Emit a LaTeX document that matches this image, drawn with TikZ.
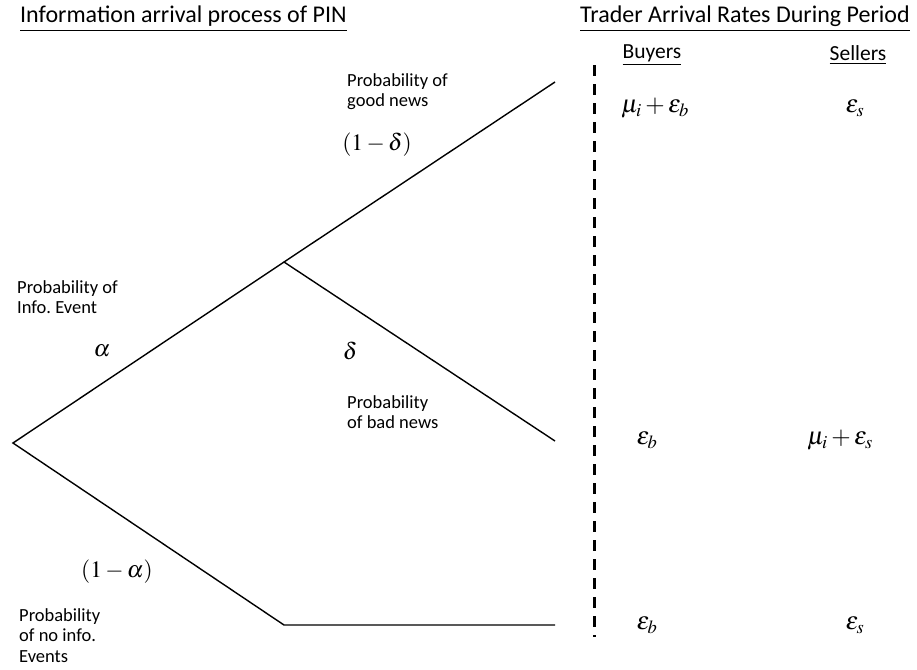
\documentclass[tikz,border=0pt]{standalone}
\usepackage{mathptmx}
\usepackage{fontspec}
\setmainfont{Carlito}
\usepackage{tikz}
\usetikzlibrary{positioning}
\frenchspacing
\tikzset{
  branch/.style={draw=black, line width=1.4pt},
  divider/.style={draw=black, line width=3pt, dash pattern=on 11pt off 8pt},
  head/.style={font=\fontsize{24}{28}\selectfont, anchor=west, inner sep=0pt},
  colhead/.style={font=\fontsize{21.5}{24}\selectfont, inner sep=0pt},
  note/.style={font=\fontsize{18.5}{20.5}\selectfont, align=left, anchor=north west, inner sep=0pt},
  prob/.style={font=\fontsize{23.5}{26}\selectfont, inner sep=1pt},
  rate/.style={font=\fontsize{25}{28}\selectfont, inner sep=1pt}
}

\begin{document}
\begin{tikzpicture}[x=1pt,y=-1pt]
  \useasboundingbox (0,0) rectangle (917,669);
  % headings
  \node[head] (pinhead) at (20,19) {\underline{Information arrival process of PIN}};
  \node[head] (ratehead) at (580,19) {\underline{Trader Arrival Rates During Period}};
  \node[colhead] (buyers) at (652,55) {\underline{Buyers}};
  \node[colhead] (sellers) at (858,55) {\underline{Sellers}};
  % tree
  \coordinate (root) at (13,443);
  \coordinate (info) at (284,262);
  \coordinate (good) at (555,82);
  \coordinate (bad) at (555,441);
  \coordinate (noinfo) at (284,625);
  \coordinate (quiet) at (555,625);
  \draw[branch] (good) -- (info) -- (root) -- (noinfo) -- (quiet);
  \draw[branch] (info) -- (bad);
  \node[note] (goodnote) at (347,73) {Probability of\\good news};
  \node[note] (infonote) at (17,280) {Probability of\\Info. Event};
  \node[note] (badnote) at (347,395) {Probability\\of bad news};
  \node[note] (nonote) at (19,608) {Probability\\of no info.\\Events};
  \node[prob] (pgood) at (377,145) {$(1-\delta)$};
  \node[prob] (palpha) at (102,351) {$\alpha$};
  \node[prob] (pdelta) at (350,351) {$\delta$};
  \node[prob] (pnone) at (117,572) {$(1-\alpha)$};
  % arrival rates
  \coordinate (dtop) at (594,65);
  \coordinate (dbot) at (594,637);
  \draw[divider] (dtop) -- (dbot);
  \node[rate] (bgood) at (655,108) {$\mu_i+\varepsilon_b$};
  \node[rate] (sgood) at (855,108) {$\varepsilon_s$};
  \node[rate] (bbad) at (647,440) {$\varepsilon_b$};
  \node[rate] (sbad) at (840,440) {$\mu_i+\varepsilon_s$};
  \node[rate] (bnone) at (647,625) {$\varepsilon_b$};
  \node[rate] (snone) at (855,625) {$\varepsilon_s$};
\end{tikzpicture}
\end{document}
